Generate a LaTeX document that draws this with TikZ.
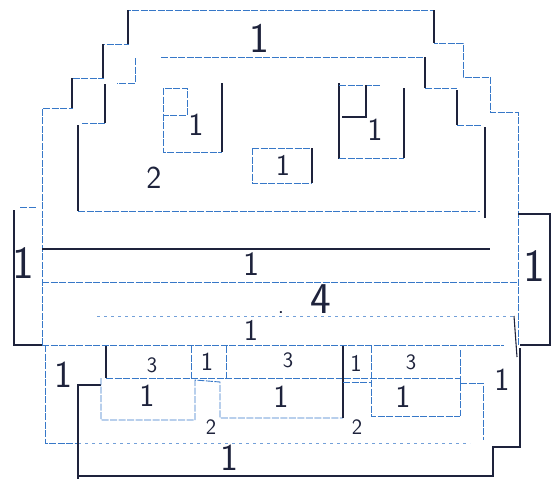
\documentclass[tikz,border=0pt]{standalone}
\usetikzlibrary{positioning}
\definecolor{inkc}{RGB}{30,35,60}
\definecolor{penc}{RGB}{55,120,200}

\begin{document}
\begin{tikzpicture}[x=1pt,y=-1pt,
   ink/.style={draw=inkc,line width=1.1pt},
   pen/.style={draw=penc,line width=0.9pt,dash pattern=on 7pt off 1.5pt},
   faint/.style={draw=penc!70,line width=0.8pt,dash pattern=on 3pt off 4pt},
   lbl/.style={font=\sffamily\fontsize{#1}{#1}\selectfont,text=inkc,inner sep=0pt},
   lbl/.default=30]
  \useasboundingbox (0,0) rectangle (556,479);

  % outer stepped outline
  \draw[pen] (42,345) |- (72,108) |- (103,78) |- (128,44) |- (434,10)
     |- (463,43) |- (490,77) |- (518,112) -- (518,345);
  \draw[ink] (72,78) -- (72,108) (103,44) -- (103,78) (128,10) -- (128,44)
     (434,10) -- (434,43);
  \draw[ink] (518,214) -- (550,214) -- (550,345) -- (520,345);
  % left bracket
  \draw[pen] (20,207) -- (36,207);
  \draw[ink] (14,210) -- (14,345) -- (42,345);

  % inner stepped outline
  \draw[pen] (161,57) -- (425,57);
  \draw[pen] (135,58) -- (135,83) -- (117,83);
  \draw[ink] (105,84) -- (105,123);
  \draw[pen] (105,123) -- (82,123);
  \draw[ink] (78,125) -- (78,211);
  \draw[pen] (78,211) -- (480,211);
  \draw[ink] (425,57) -- (425,88);
  \draw[pen] (425,88) -- (457,88);
  \draw[ink] (457,90) -- (457,125);
  \draw[pen] (457,125) -- (482,125);
  \draw[ink] (485,127) -- (485,218);

  % small boxes
  \draw[pen] (163,88) rectangle (187,115);
  \draw[pen] (163,88) -- (163,152) -- (222,152);
  \draw[ink] (222,83) -- (222,152);
  \draw[pen] (252,148) -- (312,148) (252,148) -- (252,183) -- (312,183);
  \draw[ink] (312,148) -- (312,183);
  \draw[ink] (339,83) -- (339,159);
  \draw[pen] (339,85) -- (381,85) (339,158) -- (404,158);
  \draw[ink] (342,117) -- (366,117) -- (366,85);
  \draw[ink] (404,88) -- (404,158);

  % long bands
  \draw[ink] (42,249) -- (490,249);
  \draw[pen] (42,282) -- (518,282);
  \draw[faint] (97,316) -- (514,316);
  \draw[ink] (514,316) -- (517,357);
  \draw[pen] (42,345) -- (504,345);

  % lower frames
  \draw[pen] (45,345) -- (45,443) -- (78,443);
  \draw[faint] (78,443) -- (470,443);
  \draw[pen] (460,383) -- (483,383) -- (483,440);
  \draw[ink] (101,385) -- (78,385) -- (78,479);
  \draw[ink] (78,476) -- (493,476) -- (493,447) -- (520,447) -- (520,348);

  % lower boxes
  \draw[ink] (106,346) -- (106,378);
  \draw[pen] (106,378) -- (460,378);
  \draw[pen] (101,378) -- (101,420) -- (195,420) -- (195,380) -- (220,382)
     -- (220,418) -- (343,418);
  \draw[pen] (191,346) -- (191,378) (226,346) -- (226,378);
  \draw[ink] (343,346) -- (343,418);
  \draw[pen] (343,382) -- (371,382);
  \draw[pen] (371,346) -- (371,416) -- (460,416);
  \draw[pen] (460,350) -- (460,416);

  % labels
  \node[lbl=42] (ntop)  at (259,38)  {1};
  \node[lbl=32] (nboxa) at (196,125) {1};
  \node[lbl=30] (nboxb) at (283,165) {1};
  \node[lbl=32] (nboxc) at (375,130) {1};
  \node[lbl=32] (ntwo)  at (154,178) {2};
  \node[lbl=46] (nleft) at (23,263)  {1};
  \node[lbl=46] (nright) at (534,266) {1};
  \node[lbl=34] (nband) at (251,264) {1};
  \node[lbl=44] (nfour) at (321,299) {4};
  \node[lbl=24] (ndot)  at (281,313) {.};
  \node[lbl=30] (nbandb) at (251,330) {1};
  \node[lbl=38] (nll)   at (63,375)  {1};
  \node[lbl=22] (nthra) at (152,365) {3};
  \node[lbl=26] (nsa)   at (207,362) {1};
  \node[lbl=22] (nthrb) at (288,360) {3};
  \node[lbl=24] (nsb)   at (356,363) {1};
  \node[lbl=22] (nthrc) at (411,362) {3};
  \node[lbl=32] (nlr)   at (502,380) {1};
  \node[lbl=32] (nla)   at (147,396) {1};
  \node[lbl=32] (nlb)   at (281,397) {1};
  \node[lbl=32] (nlc)   at (403,397) {1};
  \node[lbl=22] (ntwob) at (211,427) {2};
  \node[lbl=22] (ntwoc) at (357,427) {2};
  \node[lbl=38] (nbot)  at (229,458) {1};
\end{tikzpicture}
\end{document}
